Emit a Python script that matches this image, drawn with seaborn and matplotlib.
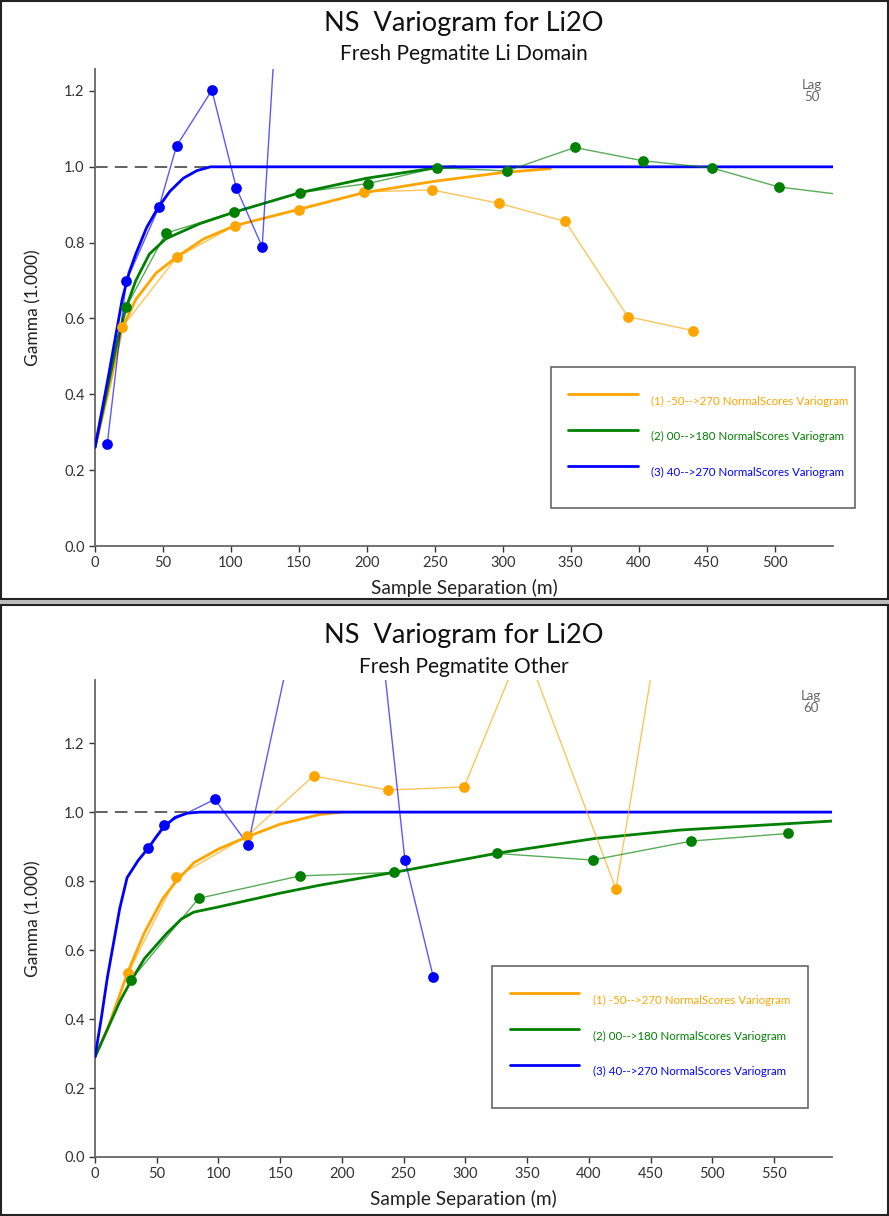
import matplotlib
matplotlib.use("Agg")
import matplotlib.pyplot as plt
from matplotlib.patches import Rectangle
import seaborn as sns

# top panel - Fresh Pegmatite Li Domain
top_orange_exp_x = [20, 60, 103, 150, 198, 248, 297, 346, 392, 440]
top_orange_exp_y = [0.577, 0.761, 0.845, 0.886, 0.934, 0.939, 0.904, 0.856, 0.605, 0.568]
top_green_exp_x = [23, 52, 102, 151, 201, 252, 303, 353, 403, 454, 503, 555]
top_green_exp_y = [0.63, 0.825, 0.88, 0.932, 0.956, 0.998, 0.989, 1.051, 1.016, 0.997, 0.947, 0.924]
top_blue_exp_x = [9, 23, 47, 60, 86, 104, 123, 142]
top_blue_exp_y = [0.268, 0.698, 0.893, 1.055, 1.202, 0.944, 0.789, 1.9]

top_orange_mod_x = [0, 10, 20, 30, 45, 60, 80, 103, 150, 198, 250, 300, 335]
top_orange_mod_y = [0.26, 0.41, 0.575, 0.65, 0.72, 0.762, 0.81, 0.845, 0.888, 0.932, 0.962, 0.985, 0.995]
top_green_mod_x = [0, 10, 17, 23, 30, 40, 52, 77, 102, 151, 200, 250, 265]
top_green_mod_y = [0.26, 0.43, 0.55, 0.63, 0.70, 0.77, 0.81, 0.85, 0.88, 0.932, 0.97, 0.997, 1.0]
top_blue_mod_x = [0, 10, 20, 25, 30, 38, 46, 55, 65, 75, 85, 543]
top_blue_mod_y = [0.26, 0.45, 0.65, 0.72, 0.77, 0.84, 0.89, 0.935, 0.97, 0.99, 1.0, 1.0]

# bottom panel - Fresh Pegmatite Other
bot_orange_exp_x = [27, 66, 123, 177, 237, 299, 347, 422, 480]
bot_orange_exp_y = [0.534, 0.812, 0.93, 1.105, 1.064, 1.073, 1.49, 0.777, 2.04]
bot_green_exp_x = [29, 84, 166, 242, 326, 403, 483, 561]
bot_green_exp_y = [0.513, 0.75, 0.815, 0.825, 0.88, 0.861, 0.916, 0.938]
bot_blue_exp_x = [43, 56, 97, 124, 208, 251, 274]
bot_blue_exp_y = [0.895, 0.964, 1.037, 0.906, 2.30, 0.862, 0.522]

bot_orange_mod_x = [0, 10, 20, 27, 40, 55, 66, 80, 100, 123, 150, 182, 200]
bot_orange_mod_y = [0.29, 0.37, 0.47, 0.54, 0.65, 0.75, 0.80, 0.853, 0.893, 0.928, 0.965, 0.993, 1.0]
bot_green_mod_x = [0, 10, 20, 29, 40, 58, 70, 80, 100, 150, 182, 245, 326, 406, 474, 597]
bot_green_mod_y = [0.29, 0.37, 0.45, 0.51, 0.575, 0.648, 0.69, 0.71, 0.725, 0.765, 0.788, 0.827, 0.881, 0.924, 0.948, 0.974]
bot_blue_mod_x = [0, 5, 10, 15, 20, 26, 35, 43, 50, 56, 65, 75, 85, 597]
bot_blue_mod_y = [0.29, 0.40, 0.52, 0.62, 0.72, 0.81, 0.86, 0.895, 0.93, 0.958, 0.985, 0.997, 1.0, 1.0]

labels = ["(1) -50-->270 NormalScores Variogram",
          "(2) 00-->180 NormalScores Variogram",
          "(3) 40-->270 NormalScores Variogram"]

orange = "#FFA500"
green = "#008000"
blue = "#0000FF"
colours = [orange, green, blue]

sns.set_style("ticks")
plt.rcParams['font.family'] = ['Lato', 'DejaVu Sans']

fig = plt.figure(figsize=(8.89, 12.16), dpi=100)
W, H = 889.0, 1216.0


def panel(rect, subtitle, lag, xmax, ymax, xticks, exps, mods, leg_box, title_y):
    ax = fig.add_axes(rect)
    ax.axhline(1.0, color="#555555", lw=1.3, ls=(0, (7, 4)), zorder=1)

    handles = []
    for (mx, my), c, lab in zip(mods, colours, labels):
        sns.lineplot(x=mx, y=my, ax=ax, color=c, lw=2.0, sort=False,
                     estimator=None, zorder=3)
        line = ax.lines[-1]
        line.set_label(lab)
        handles.append(line)

    for (ex, ey), c in zip(exps, colours):
        sns.lineplot(x=ex, y=ey, ax=ax, color=c, lw=1.0, alpha=0.65,
                     sort=False, estimator=None, zorder=4)
        sns.scatterplot(x=ex, y=ey, ax=ax, color=c, s=60, linewidth=0, zorder=5)

    ax.set_xlim(0, xmax)
    ax.set_ylim(0, ymax)
    ax.set_xticks(xticks)
    ax.set_yticks([0.0, 0.2, 0.4, 0.6, 0.8, 1.0, 1.2])
    ax.set_yticklabels([f"{v:.1f}" for v in [0.0, 0.2, 0.4, 0.6, 0.8, 1.0, 1.2]])
    ax.tick_params(colors="#333333", labelsize=10.5, length=4, width=1)
    sns.despine(ax=ax)
    for s in ["left", "bottom"]:
        ax.spines[s].set_color("#666666")
        ax.spines[s].set_linewidth(1.3)

    ax.set_xlabel("Sample Separation (m)", fontsize=13.8, color="#222222")
    ax.set_ylabel("Gamma (1.000)", fontsize=12.5, color="#222222")
    ax.xaxis.set_label_coords(0.5, -0.07)
    ax.yaxis.set_label_coords(-0.072, 0.5)

    ax.text(0.972, 0.978, f"Lag\n{lag}", transform=ax.transAxes, ha="center",
            va="top", fontsize=9.5, color="#666666", linespacing=1.0)

    leg = ax.legend(handles=handles, loc="center", bbox_to_anchor=leg_box,
                    mode="expand", fontsize=8.3, labelcolor="linecolor",
                    handlelength=6.0, handleheight=4.4, labelspacing=0,
                    handletextpad=1.2, borderpad=1.5, borderaxespad=0,
                    fancybox=False, framealpha=1, edgecolor="#666666")
    leg.get_frame().set_linewidth(1.2)

    cx = (rect[0] + rect[2] / 2)
    fig.text(cx, 1 - title_y / H, "NS  Variogram for Li2O", ha="center",
             va="center", fontsize=19.5, color="#111111")
    fig.text(cx, 1 - (title_y + 31) / H, subtitle, ha="center",
             va="center", fontsize=15, color="#111111")
    return ax


# top panel: axes spans x 95..833 px, y 69..546 px
top_rect = [95 / W, 1 - 546 / H, 738 / W, 477 / H]
panel(top_rect, "Fresh Pegmatite Li Domain", 50, 543, 1.258,
      list(range(0, 501, 50)),
      [(top_orange_exp_x, top_orange_exp_y), (top_green_exp_x, top_green_exp_y),
       (top_blue_exp_x, top_blue_exp_y)],
      [(top_orange_mod_x, top_orange_mod_y), (top_green_mod_x, top_green_mod_y),
       (top_blue_mod_x, top_blue_mod_y)],
      (0.618, 0.082, 0.412, 0.291), 23)

# bottom panel: axes spans x 95..832 px, y 680..1157 px
bot_rect = [95 / W, 1 - 1157 / H, 737 / W, 477 / H]
panel(bot_rect, "Fresh Pegmatite Other", 60, 597, 1.383,
      list(range(0, 551, 50)),
      [(bot_orange_exp_x, bot_orange_exp_y), (bot_green_exp_x, bot_green_exp_y),
       (bot_blue_exp_x, bot_blue_exp_y)],
      [(bot_orange_mod_x, bot_orange_mod_y), (bot_green_mod_x, bot_green_mod_y),
       (bot_blue_mod_x, bot_blue_mod_y)],
      (0.539, 0.109, 0.428, 0.287), 636)

# panel frames and the double separator
fig.patches.append(Rectangle((1 / W, 1 - 599 / H), 887 / W, 598 / H, fill=False,
                             edgecolor="#222222", lw=1.5, transform=fig.transFigure))
fig.patches.append(Rectangle((1 / W, 1 / H), 887 / W, (1216 - 606) / H, fill=False,
                             edgecolor="#222222", lw=1.5, transform=fig.transFigure))
fig.patches.append(Rectangle((0, 1 - 604 / H), 1, 4 / H, fill=True,
                             facecolor="#bbbbbb", edgecolor="none", transform=fig.transFigure))

fig.savefig("out.png", dpi=100)
